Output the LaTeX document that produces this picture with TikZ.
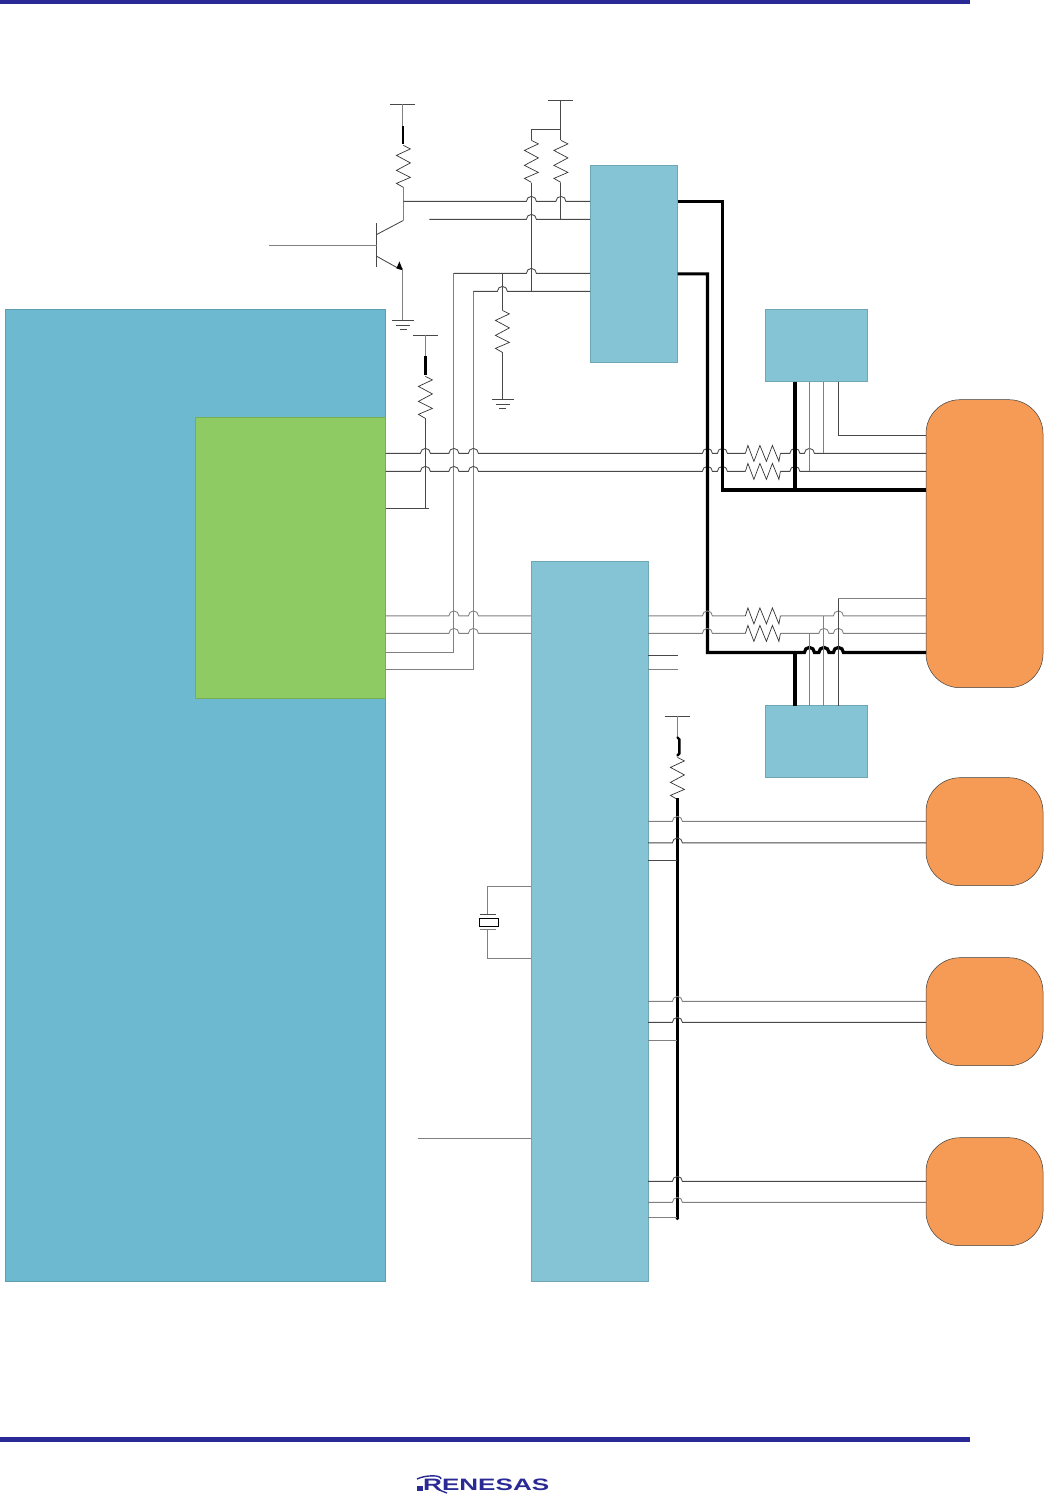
\documentclass[tikz,border=0pt]{standalone}
\usepackage{fontspec}
\setmainfont{Liberation Sans}
\usetikzlibrary{calc}
\definecolor{rbar}{HTML}{2A2A96}
\definecolor{mainblue}{HTML}{6DB9CF}
\definecolor{lightblue}{HTML}{84C4D5}
\definecolor{leaf}{HTML}{8ECC63}
\definecolor{orng}{HTML}{F59B56}
\definecolor{wgray}{HTML}{484848}
\tikzset{
  block/.style={anchor=north west,inner sep=0pt,outer sep=0pt,draw=#1!85!black,line width=0.5pt,fill=#1},
  mblock/.style={block=mainblue},
  lblock/.style={block=lightblue},
  gblock/.style={block=leaf},
  oblock/.style={anchor=north west,inner sep=0pt,outer sep=0pt,draw=black!75,line width=0.5pt,fill=orng,rounded corners=34pt},
  wire/.style={draw=wgray,line width=0.85pt},
  lwire/.style={draw=black!50,line width=0.85pt},
  fat/.style={draw=black,line width=3.2pt,line join=miter},
  res/.style={draw=black!80,line width=0.7pt,line join=miter},
}
% hop over a crossing wire
\def\hp#1#2{-- ({#1-5},#2) arc[start angle=180,end angle=0,radius=5pt]}
% vertical and horizontal resistors
\def\resv#1#2{\draw[res] (#1,#2) -- ++(7,3.5) -- ++(-14,6.5) -- ++(14,7.5) -- ++(-14,7.5) -- ++(14,7) -- ++(-14,6) -- ++(7,4);}
\def\resh#1#2{\draw[res] (#1,#2) -- ++(2.5,-8) -- ++(6,16) -- ++(6,-16) -- ++(6.5,16) -- ++(6,-16) -- ++(6.5,16) -- ++(1.5,-8);}
\def\gnd#1#2{\draw[wire] ({#1-11},#2) -- ({#1+11},#2) ({#1-7},{#2+5}) -- ({#1+7},{#2+5}) ({#1-3.5},{#2+9}) -- ({#1+3.5},{#2+9});}
\def\tbar#1#2{\draw[wire] ({#1-12.5},#2) -- ({#1+12.5},#2);}
\begin{document}
\begin{tikzpicture}[x=1pt,y=-1pt]
\useasboundingbox[fill=white] (0,0) rectangle (1044,1495);
% rules
\fill[rbar] (0,0) rectangle (970,4);
\fill[rbar] (0,1437) rectangle (970,1441.5);
% blocks
\node[mblock,minimum width=380pt,minimum height=972pt] (soc) at (5.5,309.7) {};
\node[gblock,minimum width=190pt,minimum height=281pt] (mac) at (195.5,417.2) {};
\node[lblock,minimum width=87.6pt,minimum height=197pt] (top) at (590,165.7) {};
\node[lblock,minimum width=102.6pt,minimum height=72pt] (sa) at (765,309.7) {};
\node[lblock,minimum width=102.6pt,minimum height=72pt] (sb) at (765,705.7) {};
\node[lblock,minimum width=117pt,minimum height=720pt] (hub) at (531,561.7) {};
\node[oblock,minimum width=117pt,minimum height=288pt] (p0) at (926,399.7) {};
\node[oblock,minimum width=117pt,minimum height=108pt] (p1) at (926,777.7) {};
\node[oblock,minimum width=117pt,minimum height=108pt] (p2) at (926,957.7) {};
\node[oblock,minimum width=117pt,minimum height=108pt] (p3) at (926,1137.7) {};
\begin{scope}[shift={(0.4,0.4)}]
% coordinates of free ends
\coordinate (cBase) at (269,245);
\coordinate (cTr) at (429,219);
\coordinate (cCk) at (418,1138);
% transistor branch
\tbar{402.5}{104}
\draw[lwire] (402.5,104) -- (402.5,126);
\draw[black,line width=2.6pt] (402.5,126) -- (402.5,144);
\resv{403}{145}
\draw[lwire] (403,187) -- (403,220);
\draw[wire] (403,220) -- (376.5,234);
\draw[wire] (376.5,223) -- (376.5,267);
\draw[lwire] (cBase) -- (376.5,245);
\draw[wire] (376.5,256) -- (398,268);
\fill[black] (402.5,270) -- (396,268) -- (399,261) -- cycle;
\draw[lwire] (402.5,268) -- (402.5,320);
\gnd{403}{320}
% pull-ups on the top block
\tbar{560.5}{100.5}
\draw[wire] (560.5,100.5) -- (560.5,129) -- (531,129) -- (531,140);
\draw[wire] (560.5,129) -- (560.5,140);
\resv{531}{140}
\resv{560.5}{140}
\draw[wire] (531,183) -- (531,291);
\draw[wire] (560.5,183) -- (560.5,219);
\draw[wire] (403,201) \hp{531}{201} \hp{560.5}{201} -- (top.west |- 0,201);
\draw[wire] (cTr) \hp{531}{219} -- (top.west |- 0,219);
\draw[lwire] (453.5,273) -- (453.5,652) -- (mac.east |- 0,652);
\draw[lwire] (473,291) -- (473,669) -- (mac.east |- 0,669);
\draw[wire] (top.west |- 0,273) -- ({531+5},273) arc[start angle=0,end angle=180,radius=5pt] -- (453.5,273);
\draw[wire] (top.west |- 0,291) -- ({502+5},291) arc[start angle=0,end angle=180,radius=5pt] -- (473,291);
\draw[wire] (502,273) -- (502,310);
\resv{502}{310}
\draw[wire] (502,352) -- (502,399);
\gnd{502.5}{399}
% pull-up on mac
\tbar{425}{335}
\draw[lwire] (425,335) -- (425,356);
\draw[black,line width=2.6pt] (425,356) -- (425,375);
\resv{425}{376}
\draw[wire] (425,418) -- (425,508);
\draw[wire] (mac.east |- 0,508) -- (429,508);
% mac to PHY front
\draw[wire] (mac.east |- 0,453) \hp{425}{453} \hp{453.5}{453} \hp{473}{453} \hp{707}{453} \hp{722}{453} -- (745,453);
\draw[wire] (mac.east |- 0,471) \hp{425}{471} \hp{453.5}{471} \hp{473}{471} \hp{707}{471} \hp{722}{471} -- (745,471);
\resh{745}{453}
\resh{745}{471}
\draw[wire] (780,453) \hp{794.5}{453} \hp{809}{453} -- (p0.west |- 0,453);
\draw[wire] (780,471) \hp{794.5}{471} -- (p0.west |- 0,471);
\draw[lwire] (sa.south -| 809,0) -- (809,471);
\draw[lwire] (sa.south -| 823.5,0) -- (823.5,453);
\draw[wire] (sa.south -| 838,0) -- (838,435.5) -- (p0.west |- 0,435.5);
\draw[fat] (top.east |- 0,201.5) -- (722,201.5) -- (722,489.5) -- (p0.west |- 0,489.5);
\draw[fat] (sa.south -| 794.5,0) -- (794.5,489.5);
\draw[fat] (top.east |- 0,273.5) -- (707,273.5) -- (707,652) -- (794,652) -- (804,652) arc[start angle=180,end angle=0,radius=5pt] -- (818.5,652) arc[start angle=180,end angle=0,radius=5pt] -- (833,652) arc[start angle=180,end angle=0,radius=5pt] -- (p0.west |- 0,652);
\draw[fat] (sb.north -| 794.5,0) -- (794.5,652);
% mac to hub
\draw[lwire] (mac.east |- 0,615.5) \hp{453.5}{615.5} \hp{473}{615.5} -- (hub.west |- 0,615.5);
\draw[lwire] (mac.east |- 0,633) \hp{453.5}{633} \hp{473}{633} -- (hub.west |- 0,633);
% hub to PHY rear
\draw[lwire] (hub.east |- 0,615.5) \hp{707}{615.5} -- (745,615.5);
\draw[lwire] (hub.east |- 0,633) \hp{707}{633} -- (745,633);
\resh{745}{615.5}
\resh{745}{633}
\draw[lwire] (780,615.5) \hp{838}{615.5} -- (p0.west |- 0,615.5);
\draw[lwire] (780,633) \hp{823.5}{633} \hp{838}{633} -- (p0.west |- 0,633);
\draw[lwire] (sb.north -| 809,0) -- (809,633);
\draw[lwire] (sb.north -| 823.5,0) -- (823.5,615.5);
\draw[wire] (sb.north -| 838,0) -- (838,598);
\draw[lwire] (838,598) -- (p0.west |- 0,598);
\draw[wire] (hub.east |- 0,655.5) -- (678,655.5);
\draw[lwire] (hub.east |- 0,669.5) -- (678,669.5);
% pull-up on the lower bus
\tbar{677}{716}
\draw[lwire] (677,716) -- (677,737);
\draw[black,line width=2.4pt,line cap=round] (677,737) -- (679,739) -- (679,753) -- (677,755);
\resv{677}{757}
\draw[fat] (677,798) -- (677,1218);
\fill[black] (677,1218) circle (1.8pt);
\draw[lwire] (hub.east |- 0,821) \hp{677}{821} -- (p1.west |- 0,821);
\draw[wire] (hub.east |- 0,842.5) \hp{677}{842.5} -- (p1.west |- 0,842.5);
\draw[wire] (hub.east |- 0,860) -- (677,860);
\draw[lwire] (hub.east |- 0,1001) \hp{677}{1001} -- (p2.west |- 0,1001);
\draw[wire] (hub.east |- 0,1022) \hp{677}{1022} -- (p2.west |- 0,1022);
\draw[lwire] (hub.east |- 0,1040) -- (677,1040);
\draw[wire] (hub.east |- 0,1181) \hp{677}{1181} -- (p3.west |- 0,1181);
\draw[lwire] (hub.east |- 0,1202) \hp{677}{1202} -- (p3.west |- 0,1202);
\draw[lwire] (hub.east |- 0,1217) -- (677,1217);
% crystal
\draw[lwire] (hub.west |- 0,886) -- (487.5,886) -- (487.5,914);
\draw[wire] (480,914) -- (495.5,914);
\draw[black,line width=0.8pt,fill=white] (478.5,918) rectangle (497.5,925.5);
\draw[lwire] (480,929) -- (495.5,929);
\draw[lwire] (487.5,929) -- (487.5,958) -- (hub.west |- 0,958);
\draw[lwire] (cCk) -- (hub.west |- 0,1138);
\end{scope}
% logo
\node[anchor=west,inner sep=0pt,text=rbar,font=\bfseries\fontsize{16.5}{16.5}\selectfont] (logo) at (423,1484.5) {\scalebox{1.58}[1]{RENESAS}};
\fill[rbar] (417,1486) rectangle (423,1491);
\draw[rbar,line width=1.4pt] (417,1479) .. controls (425,1475) and (441,1474.5) .. (441,1479);
\draw[rbar,line width=1.4pt] (438,1489.5) -- (447,1493);
\end{tikzpicture}
\end{document}
